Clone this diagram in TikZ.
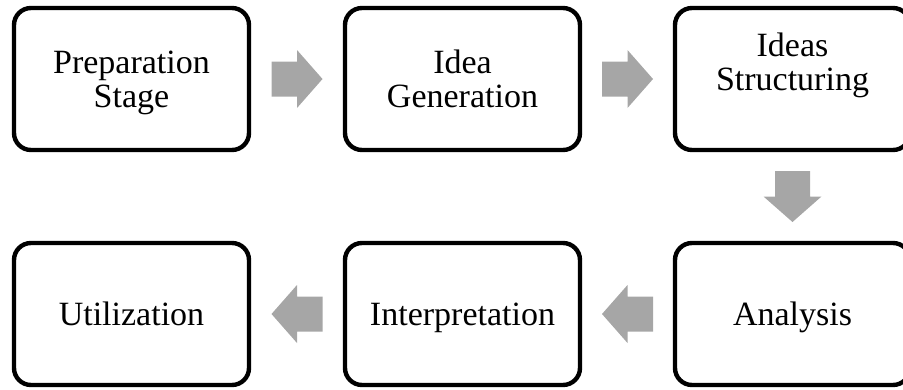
\documentclass[tikz,border=0pt]{standalone}
\usepackage{fontspec}
\setmainfont{Liberation Serif}
\usetikzlibrary{calc}
\definecolor{arrowgray}{HTML}{A6A6A6}
\begin{document}
\begin{tikzpicture}[x=1pt,y=-1pt,
  stagefont/.style={font=\fontsize{34}{34}\selectfont},
  stagebox/.style={draw=black, line width=4.4pt, rounded corners=17pt,
    fill=white, minimum width=235pt, minimum height=142pt,
    align=center, inner sep=0pt, text depth=0pt, stagefont},
  stagetext/.style={align=center, inner sep=0pt, stagefont, text depth=0pt},
  pics/blockarrow/.style={code={
    \fill[arrowgray] (-25.5,-17.5) -- (0,-17.5) -- (0,-29) -- (25.5,0)
      -- (0,29) -- (0,17.5) -- (-25.5,17.5) -- cycle;}}]
\useasboundingbox (0,0) rectangle (903,389);

% top row, left to right
\node[stagebox] (prep)   at (131.5,79) {Preparation\\Stage};
\node[stagebox] (gen)    at (462.5,79) {Idea\\Generation};
\node[stagebox] (struct) at (792.5,79) {};
\node[stagetext] (structtext) at ([yshift=17pt]struct.center) {Ideas\\Structuring};

% bottom row, right to left
\node[stagebox] (anal)   at (792.5,314) {Analysis};
\node[stagebox] (interp) at (462.5,314) {Interpretation};
\node[stagebox] (util)   at (131.5,314) {Utilization};

% block arrows between the stages
\coordinate (m1) at ($(prep.east)!0.5!(gen.west)$);
\coordinate (m2) at ($(gen.east)!0.5!(struct.west)$);
\coordinate (m3) at ($(struct.south)!0.5!(anal.north)$);
\coordinate (m4) at ($(anal.west)!0.5!(interp.east)$);
\coordinate (m5) at ($(interp.west)!0.5!(util.east)$);
\pic at (m1) {blockarrow};
\pic at (m2) {blockarrow};
\pic[rotate=-90] at (m3) {blockarrow};
\pic[rotate=180] at (m4) {blockarrow};
\pic[rotate=180] at (m5) {blockarrow};
\end{tikzpicture}
\end{document}
